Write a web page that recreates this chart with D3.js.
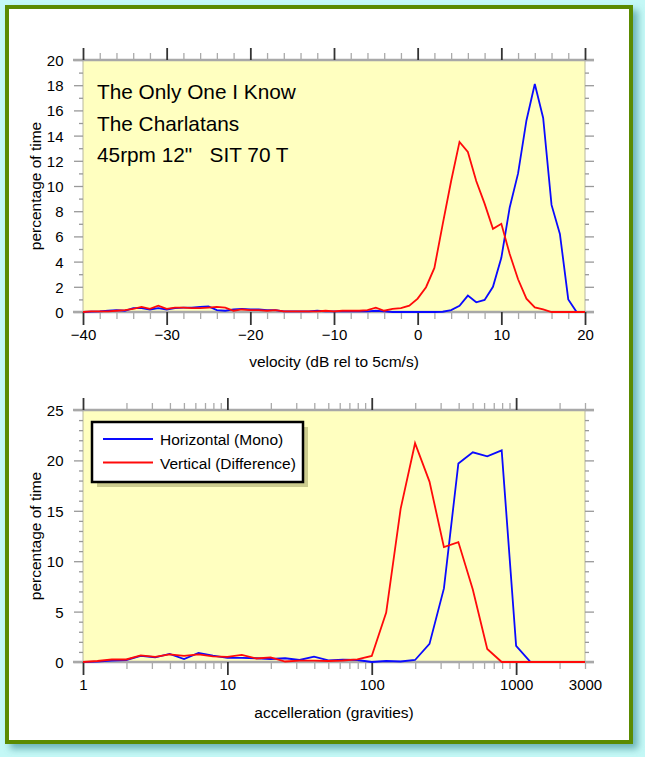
<!DOCTYPE html>
<html><head><meta charset="utf-8">
<script src="https://cdn.jsdelivr.net/npm/d3@7"></script>
<style>
html,body{margin:0;padding:0;background:#c4f8f6;}
svg{display:block;font-family:"Liberation Sans",Arial,Helvetica,sans-serif;}
</style></head>
<body><svg id="c" width="645" height="757"></svg>
<script>
// ---------- DATA ----------
const titleLines = ["The Only One I Know", "The Charlatans", "45rpm 12\"   SIT 70 T"];
const seriesNames = ["Horizontal (Mono)", "Vertical (Difference)"];

// Velocity histogram, dB rel to 5 cm/s
const velocityDb = [-40,-39,-38,-37,-36,-35,-34,-33,-32,-31,-30,-29,-28,-27,-26,-25,-24,-23,-22,-21,
  -20,-19,-18,-17,-16,-15,-14,-13,-12,-11,-10,-9,-8,-7,-6,-5,-4,-3,-2,-1,
  0,1,2,3,4,5,6,7,8,9,10,11,12,13,14,15,16,17,18,19,20];
const velHorizontal = [0,0.03,0.05,0.1,0.15,0.1,0.3,0.3,0.2,0.3,0.2,0.3,0.35,0.35,0.4,0.45,0.15,0.1,0.2,0.25,
  0.2,0.2,0.15,0.15,0.05,0.05,0.05,0.05,0.1,0.05,0.05,0.05,0.05,0.05,0.05,0.1,0.05,0,0,0,
  0,0,0,0.02,0.15,0.5,1.3,0.77,0.96,2.0,4.3,8.3,11.0,15.2,18.1,15.4,8.5,6.2,1.0,0,0];
const velVertical = [0,0.05,0.05,0.05,0.1,0.15,0.25,0.4,0.25,0.5,0.25,0.35,0.35,0.3,0.3,0.35,0.4,0.35,0.1,0.2,
  0.15,0.15,0.1,0.15,0.05,0.05,0.05,0.05,0.05,0.1,0.05,0.1,0.1,0.1,0.15,0.35,0.1,0.25,0.3,0.5,
  1.06,1.97,3.5,7.0,10.4,13.5,12.7,10.4,8.6,6.6,7.0,4.6,2.6,1.06,0.37,0.2,0,0,0,0,0];
const velTicks = [-40,-30,-20,-10,0,10,20];
const velPctTicks = [0,2,4,6,8,10,12,14,16,18,20];

// Acceleration histogram, gravities (log bins, 10 per decade)
const accelG = [1,1.259,1.585,1.995,2.512,3.162,3.981,5.012,6.310,7.943,
  10,12.59,15.85,19.95,25.12,31.62,39.81,50.12,63.10,79.43,
  100,125.9,158.5,199.5,251.2,316.2,398.1,501.2,631.0,794.3,
  1000,1259,1585,1995,2512,3162];
const accHorizontal = [0,0.03,0.13,0.2,0.6,0.47,0.8,0.3,0.9,0.63,
  0.4,0.4,0.37,0.3,0.37,0.2,0.53,0.17,0.23,0.2,
  0,0.1,0.05,0.2,1.8,7.3,19.7,20.8,20.4,21.0,
  1.6,0,0,0,0,0];
const accVertical = [0,0.1,0.25,0.25,0.65,0.5,0.75,0.6,0.75,0.55,
  0.5,0.7,0.35,0.45,0.05,0.13,0.13,0.1,0.15,0.25,
  0.6,4.9,15.2,21.7,17.9,11.4,11.9,7.2,1.3,0,
  0,0,0,0,0,0];
const accTicks = [1,10,100,1000,3000];
const accPctTicks = [0,5,10,15,20,25];

const colors = ["#0a0aff", "#ff0a0a"];

// ---------- DRAW ----------
const svg = d3.select("#c");
const defs = svg.append("defs");
const f = defs.append("filter").attr("id","sh").attr("x","-5%").attr("y","-5%").attr("width","115%").attr("height","115%");
f.append("feGaussianBlur").attr("stdDeviation",3.5);

// frame
svg.append("rect").attr("x",10).attr("y",10).attr("width",628).attr("height",739)
  .attr("fill","#58a4a8").attr("opacity",0.8).attr("filter","url(#sh)");
svg.append("rect").attr("x",7).attr("y",7).attr("width",624).attr("height",735)
  .attr("fill","#ffffff").attr("stroke","#5b8b00").attr("stroke-width",4);

const L = 83, R = 585;
const FS = 15;

function panel(pTop, pBottom, x, yMax, yTicks, yMinorStep, xTickVals, isMajor, labelled, fmt, xs, ys, id) {
  const y = d3.scaleLinear().domain([0, yMax]).range([pBottom, pTop]);
  const g = svg.append("g");
  g.append("rect").attr("x",L).attr("y",pTop).attr("width",R-L).attr("height",pBottom-pTop).attr("fill","#ffffc0");
  g.append("line").attr("x1",L).attr("x2",L).attr("y1",pTop).attr("y2",pBottom).attr("stroke","#b8b8a0").attr("stroke-width",1);
  g.append("line").attr("x1",R).attr("x2",R).attr("y1",pTop).attr("y2",pBottom).attr("stroke","#b8b8a0").attr("stroke-width",1);

  const yAll = d3.range(0, yMax + 0.001, yMinorStep);
  const yMaj = d => yTicks.includes(d);
  const yl = g.append("g").attr("transform",`translate(${L},0)`)
    .call(d3.axisLeft(y).tickValues(yAll).tickSize(0).tickFormat(d => yMaj(d) ? String(d) : ""));
  yl.select(".domain").remove();
  yl.selectAll(".tick line").attr("x2", d => yMaj(d) ? -9 : -4).attr("stroke","#999").attr("stroke-width",1.3);
  yl.selectAll(".tick text").attr("x",-19.5).attr("dy","0.36em").attr("font-size",FS).attr("font-family",null).attr("fill","#000");
  const yr = g.append("g").attr("transform",`translate(${R},0)`)
    .call(d3.axisRight(y).tickValues(yAll).tickSize(0).tickFormat(""));
  yr.select(".domain").remove();
  yr.selectAll(".tick line").attr("x2", d => yMaj(d) ? 9 : 4).attr("stroke","#999").attr("stroke-width",1.3);

  [pTop, pBottom].forEach(v => g.append("line").attr("x1",L-10).attr("x2",R+9).attr("y1",v).attr("y2",v)
    .attr("stroke","#a8a8a8").attr("stroke-width",2.5));

  const xb = g.append("g").attr("transform",`translate(0,${pBottom})`)
    .call(d3.axisBottom(x).tickValues(xTickVals).tickSize(0).tickFormat(d => labelled(d) ? fmt(d) : ""));
  xb.select(".domain").remove();
  xb.selectAll(".tick line").attr("y2", d => isMajor(d) ? 13 : 7)
    .attr("stroke", d => isMajor(d) ? "#333" : "#aaa").attr("stroke-width", d => isMajor(d) ? 1.8 : 1.3);
  xb.selectAll(".tick text").attr("y",17).attr("dy","0.71em").attr("font-size",FS).attr("font-family",null).attr("fill","#000");
  const xt = g.append("g").attr("transform",`translate(0,${pTop})`)
    .call(d3.axisTop(x).tickValues(xTickVals).tickSize(0).tickFormat(""));
  xt.select(".domain").remove();
  xt.selectAll(".tick line").attr("y2", d => isMajor(d) ? -12 : -7)
    .attr("stroke", d => isMajor(d) ? "#333" : "#aaa").attr("stroke-width", d => isMajor(d) ? 1.8 : 1.3);

  defs.append("clipPath").attr("id",id).append("rect").attr("x",L).attr("y",pTop-2).attr("width",R-L).attr("height",pBottom-pTop+4);
  const line = d3.line().x((d,i) => x(xs[i])).y(d => y(d));
  ys.forEach((s, k) => {
    g.append("path").datum(s).attr("d", line).attr("fill","none").attr("stroke",colors[k])
      .attr("stroke-width",1.8).attr("stroke-linejoin","miter").attr("clip-path",`url(#${id})`);
  });
  return {g, y};
}

// top panel
const xV = d3.scaleLinear().domain([-40, 20]).range([L, R]);
const velMinor = d3.range(-40, 21, 2);
const topPanel = panel(60, 312, xV, 20, velPctTicks, 1, velMinor, d => velTicks.includes(d), d => velTicks.includes(d),
  d => (d < 0 ? "\u2212" + Math.abs(d) : String(d)),
  velocityDb, [velHorizontal, velVertical], "clipTop");

const tg = svg.append("g").attr("font-size",20.8).attr("fill","#000").style("white-space","pre");
titleLines.forEach((t,i) => tg.append("text").attr("x",97).attr("y",99 + i*31.5).attr("xml:space","preserve").text(t));

svg.append("text").attr("transform",`translate(41,186) rotate(-90)`).attr("text-anchor","middle")
  .attr("font-size",15.5).text("percentage of time");
svg.append("text").attr("x",(L+R)/2).attr("y",367).attr("text-anchor","middle")
  .attr("font-size",15.5).text("velocity (dB rel to 5cm/s)");

// bottom panel
const xA = d3.scaleLog().domain([1, 3000]).range([L, R]);
const accMinor = [];
[1,10,100,1000].forEach(dec => { for (let m = 1; m <= 9; m++) { const v = dec*m; if (v <= 3000) accMinor.push(v); } });
const decades = [1,10,100,1000];
const botPanel = panel(410, 662, xA, 25, accPctTicks, 1, accMinor, d => decades.includes(d), d => accTicks.includes(d), d => String(d),
  accelG, [accHorizontal, accVertical], "clipBot");

svg.append("text").attr("transform",`translate(41,536) rotate(-90)`).attr("text-anchor","middle")
  .attr("font-size",15.5).text("percentage of time");
svg.append("text").attr("x",(L+R)/2).attr("y",718).attr("text-anchor","middle")
  .attr("font-size",15.5).text("accelleration (gravities)");

// legend
const lg = svg.append("g");
lg.append("rect").attr("x",97).attr("y",427).attr("width",211).attr("height",60).attr("fill","#6e6e30").attr("opacity",0.35);
lg.append("rect").attr("x",92).attr("y",422).attr("width",211).attr("height",60).attr("fill","#fff").attr("stroke","#000").attr("stroke-width",2.5);
seriesNames.forEach((n,i) => {
  const yy = 439 + i*23.5;
  lg.append("line").attr("x1",103).attr("x2",153).attr("y1",yy).attr("y2",yy).attr("stroke",colors[i]).attr("stroke-width",1.8);
  lg.append("text").attr("x",160).attr("y",yy+6).attr("font-size",15.5).text(n);
});
</script>
</body></html>
